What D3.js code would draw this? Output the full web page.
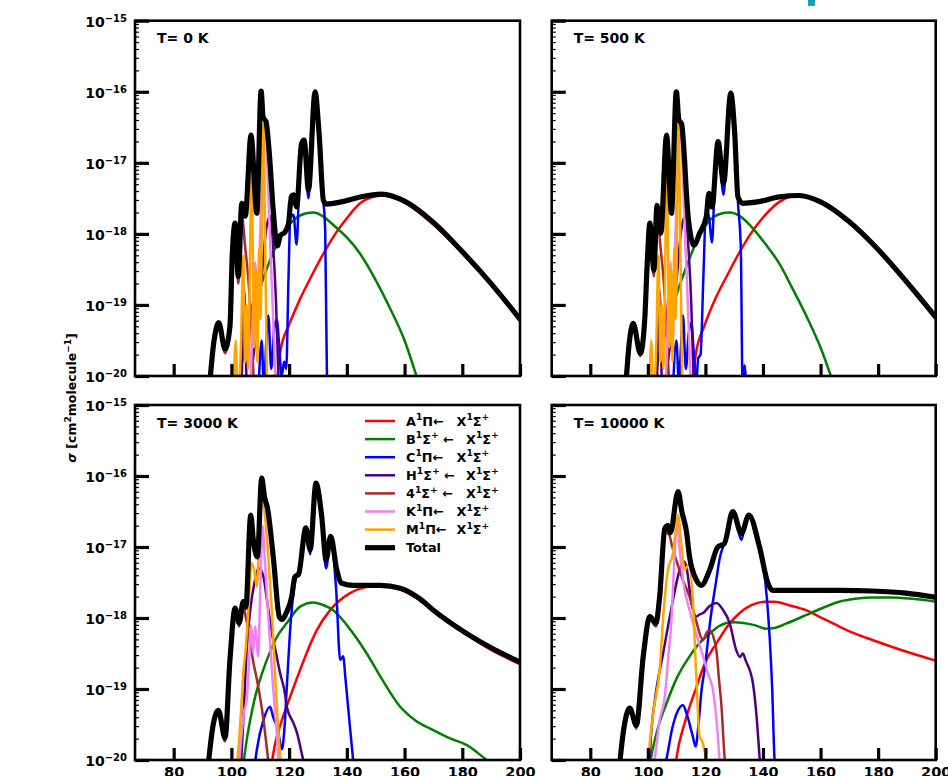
<!DOCTYPE html>
<html>
<head>
<meta charset="utf-8">
<script src="https://cdn.jsdelivr.net/npm/d3@7"></script>
<style>
  body { margin: 0; background: #fff; }
  svg { display: block; }
  text { font-family: "DejaVu Sans", sans-serif; font-weight: bold; fill: #000; }
</style>
</head>
<body>
<svg id="chart" width="948" height="776"></svg>
<script>
// ---- data: each series is [wavelength nm, log10(sigma)] ----
const xDomain = [66.6, 200];
const xTickValues = [80, 100, 120, 140, 160, 180, 200];
const yTickExps = [-20, -19, -18, -17, -16, -15];
const panelTitles = ["T= 0 K", "T= 500 K", "T= 3000 K", "T= 10000 K"];
const seriesColors = ["#ff0000", "#008000", "#0000ff", "#4b0082", "#a52a2a", "#ee82ee", "#ffa500", "#000000"];
// ^ marks the next character as a superscript
const legendLeft = ["A^1Π←", "B^1Σ^+ ←", "C^1Π←", "H^1Σ^+ ←", "4^1Σ^+ ←", "K^1Π←", "M^1Π←", "Total"];
const legendRight = ["X^1Σ^+", "X^1Σ^+", "X^1Σ^+", "X^1Σ^+", "X^1Σ^+", "X^1Σ^+", "X^1Σ^+", ""];

// T = 0 K
const t0_A = [[115.8,-20.1],[117,-19.64],[120,-19.28],[124,-18.9],[128.3,-18.55],[132,-18.27],[136,-18.0],[140,-17.78],[144.6,-17.57],[150,-17.47],[153,-17.46],[160,-17.56],[170,-17.87],[180,-18.27],[190,-18.72],[200,-19.22]];
const t0_B = [[102.6,-20.1],[104,-19.72],[105.4,-19.31],[110,-18.75],[114.4,-18.27],[118,-17.98],[122,-17.79],[126,-17.71],[128.5,-17.7],[132,-17.76],[136,-17.9],[140,-18.05],[144.6,-18.28],[150,-18.65],[155,-19.05],[160,-19.5],[164.5,-20.05]];
const t0_C = [[109.3,-20.3],[110.5,-19.5],[111.3,-20.2],[112,-19.6],[112.8,-19.15],[113.8,-19.9],[114.8,-19.35],[115.7,-19.2],[116.6,-19.6],[117.4,-20.0],[118.3,-19.8],[119,-19.9],[119.8,-18.6],[120.4,-17.78],[121.5,-17.73],[122.6,-18.15],[123.5,-17.3],[124.3,-16.76],[125.2,-16.72],[126.7,-17.5],[128,-16.5],[129,-16.05],[130.3,-16.55],[131.8,-17.5],[132.5,-17.95],[133.2,-20.3]];
const t0_H = [[103.5,-20.3],[104.5,-18.8],[105.4,-20.2],[108,-19.6],[110.5,-18.6],[112,-17.95],[113.5,-17.75],[114.5,-18.2],[115.5,-19.0],[116.5,-20.3]];
const t0_4 = [[92.5,-20.1],[94,-19.52],[95.6,-19.28],[97.8,-19.68],[99.5,-19.38],[100.3,-18.4],[101.3,-17.92],[102.4,-18.7],[103.6,-17.75],[104.8,-18.2],[105.8,-18.6],[107,-19.4],[108,-20.3]];
const t0_K = [[106.5,-20.3],[107.5,-19.0],[108.3,-18.4],[109,-19.5],[109.8,-18.2],[110.5,-17.4],[111.7,-16.45],[112.5,-17.1],[113.5,-18.2],[114.5,-19.2],[115.4,-20.3]];
const t0_M = [[100.8,-20.3],[101.5,-19.5],[102.2,-20.3],[103.3,-19.6],[104.1,-18.3],[104.8,-19.8],[105.3,-19.0],[105.8,-19.9],[107,-17.15],[107.9,-19.6],[108.4,-18.5],[109,-19.8],[109.6,-18.2],[110.1,-19.2],[111,-16.45],[111.8,-18.5],[112.4,-20.3]];
const t0_T = [[92.5,-20.1],[94,-19.5],[95.6,-19.25],[97.8,-19.62],[99.5,-19.3],[100.3,-18.3],[101.3,-17.85],[102.4,-18.6],[103.6,-17.57],[104.8,-17.75],[106.8,-16.61],[108.8,-17.71],[110.3,-15.99],[111,-16.36],[112,-16.42],[113.2,-16.9],[114.5,-17.67],[115.9,-18.17],[117,-18.02],[118.5,-17.98],[119.8,-17.85],[120.8,-17.47],[121.5,-17.45],[122.6,-17.62],[124.3,-16.73],[125.2,-16.68],[126.7,-17.38],[129,-16.0],[130.4,-16.6],[131.9,-17.53],[133,-17.58],[138,-17.55],[144.6,-17.48],[152,-17.44],[160,-17.54],[170,-17.84],[180,-18.25],[190,-18.7],[200,-19.2]];

// T = 500 K
const t500_A = [[115.4,-20.1],[116.7,-19.68],[119.6,-19.3],[123.6,-18.9],[128,-18.55],[131.7,-18.27],[135.7,-18.0],[140,-17.77],[145.7,-17.55],[150,-17.47],[153,-17.46],[160,-17.55],[170,-17.84],[180,-18.23],[190,-18.69],[200,-19.18]];
const t500_B = [[102.3,-20.1],[103.5,-19.8],[106.5,-19.35],[110,-18.85],[113.4,-18.46],[117,-18.1],[121.5,-17.81],[125,-17.72],[128.4,-17.7],[132,-17.75],[136,-17.9],[141,-18.15],[145.7,-18.42],[150,-18.75],[155,-19.15],[160,-19.6],[164,-20.05]];
const t500_C = [[108.6,-20.3],[109.9,-19.5],[110.8,-20.1],[111.5,-19.6],[112.2,-19.15],[113.2,-19.9],[114.2,-19.4],[115.1,-19.25],[116,-19.7],[116.8,-20.1],[117.5,-19.75],[118.3,-19.7],[119.3,-18.6],[120.1,-17.75],[121,-17.72],[122.3,-18.12],[123.2,-17.3],[124.4,-16.73],[126.3,-17.45],[127.6,-16.55],[128.8,-16.05],[130.2,-16.6],[131.3,-17.55],[132.3,-18.2],[132.9,-20.1],[133.6,-19.85],[134.3,-20.3]];
const t500_H = [[103.1,-20.3],[104.1,-18.8],[105,-20.2],[107.6,-19.6],[110.1,-18.6],[111.6,-17.95],[113.1,-17.75],[114.1,-18.2],[115.1,-19.0],[116.1,-20.3]];
const t500_4 = [[92.4,-20.1],[93.5,-19.6],[94.9,-19.3],[97.4,-19.72],[98.9,-19.27],[99.8,-18.45],[100.7,-17.9],[102.1,-18.6],[103.2,-17.68],[104.3,-18.15],[105.4,-18.6],[106.6,-19.4],[107.6,-20.3]];
const t500_K = [[106.1,-20.3],[107.1,-19.0],[107.9,-18.4],[108.6,-19.5],[109.4,-18.2],[110.1,-17.4],[111.3,-16.45],[112.1,-17.1],[113.1,-18.2],[114.1,-19.2],[115,-20.3]];
const t500_M = [[100.5,-20.3],[101.2,-19.5],[101.9,-20.3],[102.9,-19.6],[103.7,-18.3],[104.4,-19.8],[104.9,-19.0],[105.4,-19.9],[106.6,-17.15],[107.5,-19.6],[108,-18.5],[108.6,-19.8],[109.2,-18.2],[109.7,-19.2],[110.6,-16.45],[111.4,-18.5],[112,-20.3]];
const t500_T = [[92.4,-20.1],[93.5,-19.55],[94.9,-19.26],[97.4,-19.68],[98.9,-19.22],[99.8,-18.4],[100.7,-17.85],[102.1,-18.51],[103.2,-17.6],[104.5,-17.99],[106.5,-16.61],[108.2,-17.71],[109.9,-16.0],[110.8,-16.4],[111.7,-16.45],[114,-17.76],[116,-18.16],[118,-17.99],[120.3,-17.76],[121.2,-17.43],[122.3,-17.62],[124.4,-16.7],[126.3,-17.29],[128.8,-16.02],[130.2,-16.6],[131.3,-17.48],[133,-17.57],[138,-17.55],[145.7,-17.48],[152.7,-17.46],[160,-17.55],[170,-17.83],[180,-18.22],[190,-18.68],[200,-19.17]];

// T = 3000 K
const t3000_A = [[113.8,-20.1],[115,-19.8],[117,-19.5],[120,-19.15],[123.8,-18.73],[129.6,-18.17],[134,-17.9],[141.1,-17.65],[146.9,-17.56],[151.5,-17.54],[158.5,-17.6],[165,-17.74],[170,-17.91],[181.6,-18.24],[190,-18.45],[200,-18.65]];
const t3000_B = [[104,-20.1],[105.3,-19.72],[108,-19.15],[112.3,-18.59],[116,-18.25],[119.2,-18.07],[123.8,-17.84],[128.4,-17.78],[132,-17.82],[135.3,-17.89],[140,-18.1],[146.9,-18.5],[152,-18.85],[158.5,-19.25],[164,-19.45],[170,-19.58],[176,-19.7],[181.6,-19.79],[188.5,-20.0],[192,-20.1]];
const t3000_C = [[108,-20.1],[108.8,-19.86],[111,-19.45],[113.4,-19.25],[114.5,-19.4],[116,-19.55],[117.5,-19.85],[118.3,-19.6],[119.3,-18.9],[120.3,-18.2],[121.5,-17.65],[122.5,-17.43],[123.5,-17.4],[125.8,-16.76],[127.3,-17.1],[129.3,-16.12],[131.3,-16.6],[132.8,-17.3],[134.4,-16.88],[136.3,-17.6],[137.7,-18.59],[138.8,-18.54],[139.4,-18.8],[140,-19.06],[141,-19.5],[142.3,-20.05]];
const t3000_H = [[103.3,-20.1],[104.3,-19.3],[105.3,-18.45],[106.5,-17.9],[108,-17.5],[109.5,-17.3],[111,-17.4],[112.5,-17.8],[114,-18.2],[115.5,-18.5],[116.9,-18.78],[118.5,-19.05],[119.2,-19.25],[121.5,-19.48],[122.6,-19.6],[124.9,-20.0],[125.5,-20.1]];
const t3000_4 = [[91.9,-20.15],[93.5,-19.6],[95.5,-19.33],[97.8,-19.74],[99.5,-18.65],[101.3,-17.9],[102.7,-18.12],[104.1,-17.82],[104.7,-17.93],[106,-18.2],[107.5,-18.6],[109,-18.9],[111,-19.4],[113,-20.1]];
const t3000_K = [[102.6,-20.1],[103.6,-19.6],[104.5,-19.3],[105.3,-19.15],[106,-18.7],[106.8,-18.1],[107.5,-18.5],[108.2,-18.12],[109.3,-18.54],[110,-17.6],[110.8,-16.7],[111.6,-17.2],[112.5,-17.8],[113.5,-18.4],[114.5,-19.0],[115.5,-19.5],[116.5,-20.1]];
const t3000_M = [[101.8,-20.1],[102.4,-19.86],[103.5,-19.2],[104.1,-18.78],[104.8,-18.5],[105.7,-18.0],[107,-17.23],[108,-17.35],[108.8,-17.56],[109.7,-16.8],[110.5,-16.15],[111.5,-16.5],[112.8,-17.14],[114,-17.9],[115.1,-18.78],[116,-19.4],[116.9,-19.95],[117.5,-20.1]];
const t3000_T = [[91.9,-20.1],[93.5,-19.55],[95.5,-19.3],[97.8,-19.69],[99.5,-18.59],[101.3,-17.86],[102.7,-18.07],[104.1,-17.77],[105,-17.85],[106.7,-16.55],[107.6,-16.9],[109,-17.14],[110.5,-16.03],[111.5,-16.3],[112.5,-16.45],[114.6,-17.18],[116.6,-17.98],[117.5,-18.02],[119.2,-17.91],[120.9,-17.7],[122,-17.42],[123.3,-17.38],[125.8,-16.73],[127.3,-17.04],[129.3,-16.1],[131.3,-16.57],[132.8,-17.18],[134.4,-16.85],[136.5,-17.32],[138.2,-17.51],[142.3,-17.54],[151.5,-17.54],[158.5,-17.58],[165,-17.72],[170,-17.89],[181.6,-18.22],[190,-18.42],[200,-18.62]];

// T = 10000 K
const t10000_A = [[109.5,-20.1],[109.9,-19.98],[113,-19.45],[116.9,-18.97],[120,-18.62],[123.8,-18.36],[128,-18.1],[131.9,-17.93],[136,-17.82],[141.1,-17.77],[144,-17.77],[149,-17.82],[154.9,-17.89],[160,-17.99],[166.5,-18.12],[172,-18.22],[178,-18.31],[188,-18.45],[200,-18.6]];
const t10000_B = [[100.6,-20.1],[101.2,-19.95],[103.5,-19.55],[106.5,-19.2],[110,-18.85],[114.5,-18.54],[118,-18.35],[121.5,-18.22],[124.5,-18.12],[127.3,-18.07],[130,-18.06],[133.1,-18.07],[137,-18.1],[141,-18.15],[144,-18.14],[148,-18.08],[154.9,-17.96],[160,-17.87],[166.5,-17.77],[172,-17.73],[178,-17.71],[185,-17.71],[192,-17.73],[200,-17.77]];
const t10000_C = [[105.8,-20.1],[106.5,-19.98],[108.5,-19.55],[110.5,-19.3],[112.2,-19.23],[113.5,-19.35],[115.5,-19.65],[116.6,-19.81],[117.6,-19.5],[118.7,-19.0],[119.7,-18.73],[121.8,-18.0],[123.8,-17.46],[125,-17.15],[126.1,-17.0],[127.5,-16.85],[129.5,-16.53],[131,-16.7],[132.5,-16.9],[133.7,-16.7],[135.1,-16.56],[137.5,-16.85],[140,-17.23],[141.3,-17.7],[142.3,-18.26],[143.2,-19.0],[144,-19.98],[144.3,-20.1]];
const t10000_H = [[100.4,-20.1],[101.2,-19.6],[103,-19.0],[105.3,-18.5],[108,-17.9],[111.1,-17.32],[112.5,-17.2],[113.5,-17.3],[115,-17.75],[116.9,-17.98],[118,-17.95],[119.2,-17.93],[121.5,-17.83],[123.8,-17.79],[126,-17.88],[128.4,-18.07],[130.7,-18.45],[132,-18.55],[133,-18.5],[134,-18.6],[136.5,-18.92],[137.8,-19.4],[138.8,-19.95],[139.1,-20.1]];
const t10000_4 = [[90.1,-20.15],[91.5,-19.65],[93.7,-19.3],[96,-19.56],[98.4,-18.6],[100.7,-18.02],[102.8,-18.12],[104.1,-17.75],[105.9,-16.8],[107.3,-16.82],[108.5,-17.0],[110,-17.2],[112,-17.45],[114.5,-17.7],[116.5,-18.0],[119.2,-18.31],[120.5,-18.2],[121.5,-18.17],[123,-18.3],[123.8,-18.45],[124.8,-18.9],[125.5,-19.2],[126.7,-19.98],[127,-20.1]];
const t10000_K = [[102,-20.1],[102.4,-19.98],[104.1,-19.44],[105.9,-19.11],[107,-18.6],[108.2,-18.03],[109.2,-17.2],[110.1,-16.62],[111,-17.0],[112.2,-17.46],[114.5,-17.89],[117,-18.25],[119.2,-18.54],[121,-18.8],[122.6,-19.01],[124,-19.5],[124.9,-19.98],[125.2,-20.1]];
const t10000_M = [[99.8,-20.1],[100.1,-19.98],[102,-19.3],[104.1,-18.73],[105.5,-17.9],[107,-17.32],[108.7,-17.09],[109.6,-16.8],[110.5,-16.55],[111.5,-16.9],[112.8,-17.32],[114.3,-17.25],[115.7,-17.79],[116.8,-18.8],[118,-19.67],[119,-19.75],[120.1,-19.98],[120.4,-20.1]];
const t10000_T = [[90.1,-20.1],[91.5,-19.6],[93.7,-19.27],[96,-19.51],[98.4,-18.54],[100.7,-17.98],[102.8,-18.07],[104.1,-17.7],[105.9,-16.74],[107,-16.7],[107.8,-16.8],[110.5,-16.22],[111.8,-16.5],[113.4,-16.78],[114.5,-17.14],[116.8,-17.46],[118.6,-17.54],[121.5,-17.32],[124.3,-17.0],[126.6,-16.95],[129.5,-16.5],[132.5,-16.81],[135.1,-16.55],[138.8,-17.0],[141.7,-17.51],[143.4,-17.61],[152.7,-17.61],[166.5,-17.61],[178,-17.62],[189.6,-17.65],[200,-17.71]];

const panels = [
  [t0_A, t0_B, t0_C, t0_H, t0_4, t0_K, t0_M, t0_T],
  [t500_A, t500_B, t500_C, t500_H, t500_4, t500_K, t500_M, t500_T],
  [t3000_A, t3000_B, t3000_C, t3000_H, t3000_4, t3000_K, t3000_M, t3000_T],
  [t10000_A, t10000_B, t10000_C, t10000_H, t10000_4, t10000_K, t10000_M, t10000_T]
];

// text with ^-marked superscripts
function rich(sel, str, size, x) {
  const runs = [];
  for (let i = 0; i < str.length; i++) {
    if (str[i] === "^") { runs.push({ s: str[i + 1], sup: true }); i++; }
    else if (runs.length && !runs[runs.length - 1].sup) runs[runs.length - 1].s += str[i];
    else runs.push({ s: str[i], sup: false });
  }
  let shift = 0;
  runs.forEach((r, j) => {
    const target = r.sup ? -size * 0.42 : 0;
    const ts = sel.append("tspan").attr("dy", target - shift)
      .attr("font-size", (r.sup ? size * 0.72 : size) + "px").text(r.s);
    if (j === 0 && x != null) ts.attr("x", x);
    shift = target;
  });
}

// ---- layout ----
const svg = d3.select("#chart");
const defs = svg.append("defs");
const cols = [[135, 520], [551.7, 935.7]];
const rows = [[20.7, 376], [405, 760]];

panels.forEach((series, i) => {
  const col = i % 2, row = Math.floor(i / 2);
  const [x0, x1] = cols[col], [y0, y1] = rows[row];
  const x = d3.scaleLinear().domain(xDomain).range([x0, x1]);
  const y = d3.scaleLog().domain([1e-20, 1e-15]).range([y1, y0]);
  const g = svg.append("g");

  defs.append("clipPath").attr("id", "clip" + i)
    .append("rect").attr("x", x0).attr("y", y0).attr("width", x1 - x0).attr("height", y1 - y0);

  const line = d3.line()
    .x(d => x(d[0]))
    .y(d => y(Math.pow(10, d[1])))
    .curve(d3.curveMonotoneX);

  const lg = g.append("g").attr("clip-path", `url(#clip${i})`);
  series.forEach((s, k) => {
    lg.append("path").attr("d", line(s))
      .attr("fill", "none")
      .attr("stroke", seriesColors[k])
      .attr("stroke-width", k === 7 ? 5.2 : 2.5)
      .attr("stroke-linejoin", "round")
      .attr("stroke-linecap", "round");
  });

  // minor y ticks
  const minor = [];
  for (let e = -20; e < -15; e++) for (let m = 2; m <= 9; m++) minor.push(m * Math.pow(10, e));
  g.append("g").attr("transform", `translate(${x0},0)`)
    .call(d3.axisLeft(y).tickValues(minor).tickSizeInner(-4).tickSizeOuter(0).tickFormat(() => ""))
    .call(a => a.select(".domain").remove())
    .selectAll("line").attr("stroke-width", 1.2);

  // major y ticks
  const ya = g.append("g").attr("transform", `translate(${x0},0)`)
    .call(d3.axisLeft(y).tickValues(yTickExps.map(e => Math.pow(10, e)))
      .tickSizeInner(-14).tickSizeOuter(0).tickPadding(8).tickFormat(() => ""))
    .call(a => a.select(".domain").remove());
  ya.selectAll("line").attr("stroke-width", 3.2);
  if (col === 0) {
    ya.selectAll(".tick text").each(function(d) {
      const e = Math.round(Math.log10(d));
      const t = d3.select(this).attr("font-size", "14px").attr("dy", "0.42em");
      t.append("tspan").text("10");
      t.append("tspan").attr("dy", "-0.5em").attr("font-size", "10px").text("−" + Math.abs(e));
    });
  }

  // x ticks
  const xa = g.append("g").attr("transform", `translate(0,${y1})`)
    .call(d3.axisBottom(x).tickValues(xTickValues).tickSizeInner(-12).tickSizeOuter(0)
      .tickPadding(7).tickFormat(row === 1 ? d3.format("d") : () => ""))
    .call(a => a.select(".domain").remove());
  xa.selectAll("line").attr("stroke-width", 3.2);
  xa.selectAll("text").attr("font-size", "14.5px");

  // frame
  g.append("rect").attr("x", x0).attr("y", y0).attr("width", x1 - x0).attr("height", y1 - y0)
    .attr("fill", "none").attr("stroke", "#000").attr("stroke-width", 2.6);

  g.append("text").attr("x", x0 + 22).attr("y", y0 + 22.5)
    .attr("font-size", "14px").text(panelTitles[i]);

  // legend in the T=3000 K panel
  if (i === 2) {
    const leg = g.append("g");
    legendLeft.forEach((lab, k) => {
      const yy = 421 + k * 18.1;
      leg.append("line").attr("x1", 365).attr("x2", 395).attr("y1", yy).attr("y2", yy)
        .attr("stroke", seriesColors[k]).attr("stroke-width", k === 7 ? 5.2 : 2.5);
      rich(leg.append("text").attr("x", 406).attr("y", yy + 4.5), lab, 12.8, 406);
      if (legendRight[k]) {
        const rx = lab.includes("Σ") ? 466 : 456.5;
        rich(leg.append("text").attr("x", rx).attr("y", yy + 4.5), legendRight[k], 12.8, rx);
      }
    });
  }
});

// y label
const yl = svg.append("text")
  .attr("transform", "translate(76,398) rotate(-90)")
  .attr("text-anchor", "middle").attr("font-size", "12.5px");
yl.append("tspan").attr("font-style", "italic").text("σ ");
rich(yl, "[cm^2molecule^−^1]", 12.5);

// cropped mark from the source figure
svg.append("rect").attr("x", 808).attr("y", 0).attr("width", 7).attr("height", 6).attr("fill", "#1a9fb0");
</script>
</body>
</html>
